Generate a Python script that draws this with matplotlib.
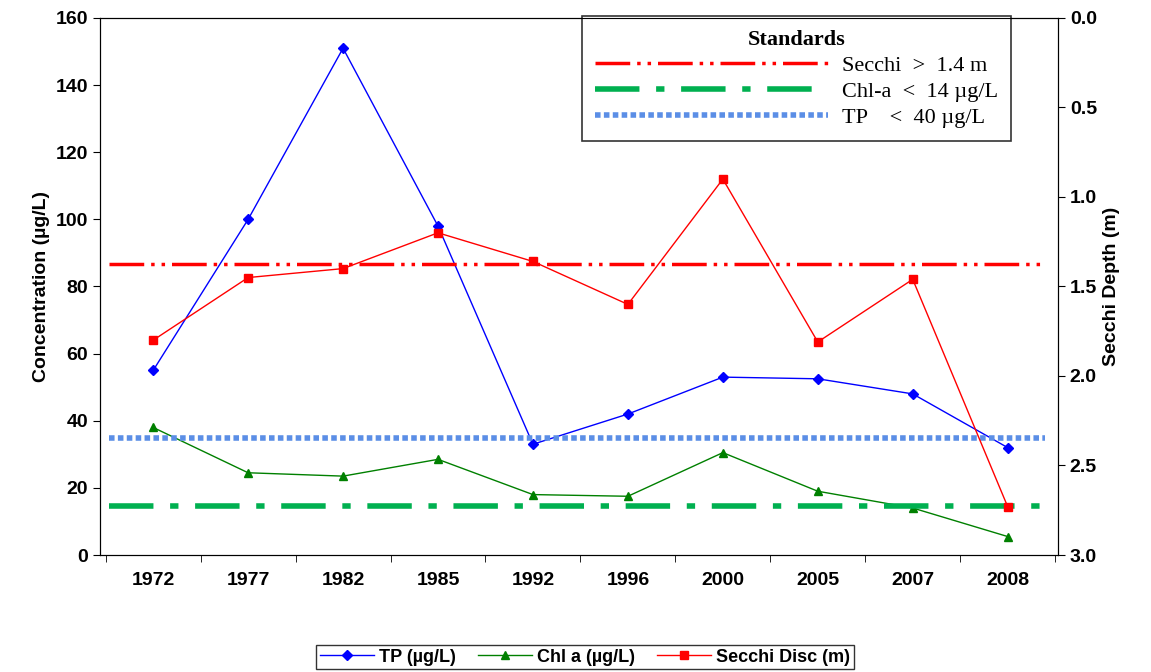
import numpy as np
import matplotlib.pyplot as plt
from matplotlib.lines import Line2D

plt.rcParams['font.family'] = ['Liberation Sans', 'DejaVu Sans']

years = ['1972', '1977', '1982', '1985', '1992', '1996', '2000', '2005', '2007', '2008']
tp = [55, 100, 151, 98, 33, 42, 53, 52.5, 48, 32]
chla = [38, 24.5, 23.5, 28.5, 18, 17.5, 30.5, 19, 14, 5.5]
secchi = [1.80, 1.45, 1.40, 1.20, 1.36, 1.60, 0.90, 1.81, 1.46, 2.73]
std_secchi = 1.375
std_chla = 14.6
std_tp = 35

fig = plt.figure(figsize=(11.51, 6.72), dpi=100)
ax = fig.add_axes([100/1151, 1-555/672, 958/1151, 537/672])
ax2 = ax.twinx()
x = np.arange(len(years))

ax.plot(x, tp, color='blue', marker='D', ms=5, lw=1, label='TP (µg/L)')
ax.plot(x, chla, color='green', marker='^', ms=6, lw=1, label='Chl a (µg/L)')
ax2.plot(x, secchi, color='red', marker='s', ms=6, lw=1, label='Secchi Disc (m)')

sec_ls = (0, (10, 2, 1, 2, 1, 2))
chl_ls = (0, (8, 3, 1.5, 3))
tp_ls = (0, (1, 0.6))
xs = [-0.47, 9.39]
ax2.plot(xs, [std_secchi]*2, color='red', lw=2.5, ls=sec_ls)
ax.plot(xs, [std_chla]*2, color='#00b050', lw=4, ls=chl_ls)
ax.plot(xs, [std_tp]*2, color='#5b8ee6', lw=4, ls=tp_ls)

ax.set_xlim(-0.56, 9.53)
ax.set_ylim(0, 160)
ax.set_yticks(range(0, 161, 20))
ax2.set_ylim(3, 0)
ax2.set_yticks(np.arange(0, 3.01, 0.5))
ax2.set_yticklabels(['%.1f' % v for v in np.arange(0, 3.01, 0.5)])
ax.set_xticks(x)
ax.set_xticklabels(years)
ax.set_xticks(np.arange(-0.5, 9.6, 1), minor=True)
ax.tick_params(axis='x', which='major', length=0, pad=12)
ax.tick_params(axis='x', which='minor', length=5, direction='out')
for a in (ax, ax2):
    a.tick_params(axis='y', direction='out', length=5)
    for lab in a.get_xticklabels() + a.get_yticklabels():
        lab.set_fontsize(14)
        lab.set_fontweight('bold')
ax.set_ylabel('Concentration (µg/L)', fontsize=14, fontweight='bold')
ax2.set_ylabel('Secchi Depth (m)', fontsize=14, fontweight='bold')

h1, l1 = ax.get_legend_handles_labels()
h2, l2 = ax2.get_legend_handles_labels()
fig.legend(h1[:2] + h2[:1], l1[:2] + l2[:1], loc='center', bbox_to_anchor=(585/1151, 1-657/672),
           ncol=3, frameon=True, fancybox=False, edgecolor='black', handlelength=3,
           prop={'weight': 'bold', 'size': 13}, borderpad=0.2, columnspacing=1.2, handletextpad=0.3)

hs = [Line2D([], [], color='red', lw=2.5, ls=sec_ls),
      Line2D([], [], color='#00b050', lw=4, ls=chl_ls),
      Line2D([], [], color='#5b8ee6', lw=4, ls=tp_ls)]
ls = ['Secchi  >  1.4 m', 'Chl-a  <  14 µg/L', 'TP    <  40 µg/L']
leg2 = ax.legend(hs, ls, loc='upper right', bbox_to_anchor=(922/958, 1.024), title='Standards',
                 frameon=True, fancybox=False, edgecolor='black', handlelength=10.5,
                 prop={'family': 'Liberation Serif', 'size': 16}, borderpad=0.6, labelspacing=0.25,
                 handletextpad=0.6)
leg2.get_title().set_fontproperties({'family': 'Liberation Serif', 'size': 16, 'weight': 'bold'})
leg2.get_frame().set_linewidth(1.2)

fig.savefig('out.png', dpi=100)
